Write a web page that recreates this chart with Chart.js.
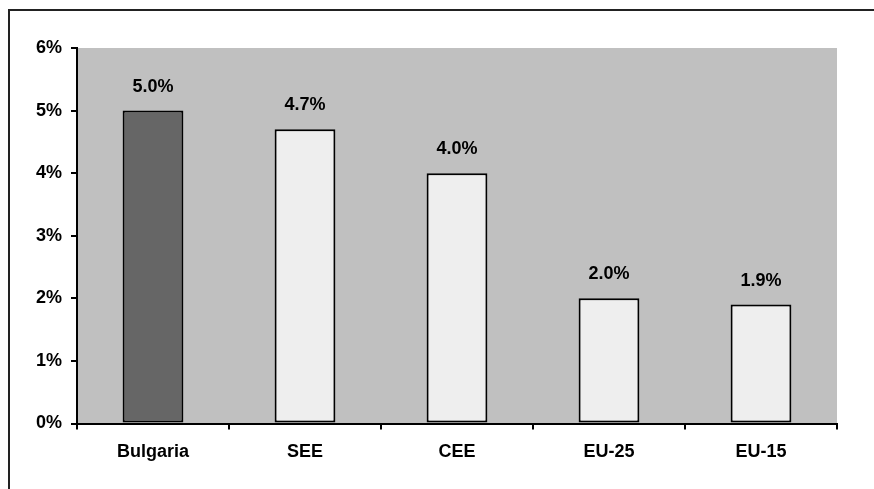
<!DOCTYPE html>
<html>
<head>
<meta charset="utf-8">
<script src="https://cdn.jsdelivr.net/npm/chart.js@4/dist/chart.umd.min.js"></script>
<style>
  html, body { margin: 0; padding: 0; background: #ffffff; }
  #wrap { width: 874px; height: 489px; position: relative; }
</style>
</head>
<body>
<div id="wrap"><canvas id="c" width="874" height="489"></canvas></div>
<script>
// Growth rates by region
const categories = ['Bulgaria', 'SEE', 'CEE', 'EU-25', 'EU-15'];
const growth = [5.0, 4.7, 4.0, 2.0, 1.9];
const barColors = ['#666666', '#eeeeee', '#eeeeee', '#eeeeee', '#eeeeee'];
const yTicks = [0, 1, 2, 3, 4, 5, 6];

const FONT = 'Liberation Sans, Arial, Helvetica, sans-serif';
const FONT_SIZE = 18;

// Gray plot background plus the outer frame lines
const backdrop = {
  id: 'backdrop',
  beforeDraw(chart) {
    const { ctx, chartArea: a } = chart;
    ctx.save();
    ctx.fillStyle = '#ffffff';
    ctx.fillRect(0, 0, chart.width, chart.height);
    ctx.fillStyle = '#c0c0c0';
    ctx.fillRect(a.left, a.top, a.right - a.left, a.bottom - a.top);
    ctx.strokeStyle = '#222222';
    ctx.lineWidth = 2;
    ctx.beginPath();
    ctx.moveTo(9, chart.height + 2);
    ctx.lineTo(9, 10);
    ctx.lineTo(chart.width + 2, 10);
    ctx.stroke();
    ctx.restore();
  }
};

// Value labels above each bar
const valueLabels = {
  id: 'valueLabels',
  afterDatasetsDraw(chart) {
    const { ctx } = chart;
    const meta = chart.getDatasetMeta(0);
    ctx.save();
    ctx.fillStyle = '#000000';
    ctx.font = 'bold ' + FONT_SIZE + 'px ' + FONT;
    ctx.textAlign = 'center';
    ctx.textBaseline = 'middle';
    meta.data.forEach((bar, i) => {
      ctx.fillText(growth[i].toFixed(1) + '%', bar.x, bar.y - 24);
    });
    ctx.restore();
  }
};

new Chart(document.getElementById('c'), {
  type: 'bar',
  data: {
    labels: categories,
    datasets: [{
      data: growth,
      backgroundColor: barColors,
      borderColor: '#000000',
      borderWidth: 2,
      borderSkipped: false,
      categoryPercentage: 1.0,
      barPercentage: 0.4
    }]
  },
  options: {
    responsive: false,
    animation: false,
    events: [],
    layout: { padding: { left: 0, top: 48, right: 37, bottom: 0 } },
    plugins: { legend: { display: false }, tooltip: { enabled: false } },
    scales: {
      x: {
        afterFit(scale) { scale.height = 65.5; },
        grid: {
          offset: true,
          drawOnChartArea: false,
          drawTicks: true,
          tickLength: 6,
          tickColor: '#000000',
          lineWidth: 2
        },
        border: { display: true, color: '#000000', width: 2 },
        ticks: {
          color: '#000000',
          font: { family: FONT, size: FONT_SIZE, weight: 'bold' },
          padding: 12
        }
      },
      y: {
        min: 0,
        max: 6,
        afterFit(scale) { scale.width = 77; },
        afterBuildTicks(scale) { scale.ticks = yTicks.map(v => ({ value: v })); },
        grid: {
          drawOnChartArea: false,
          drawTicks: true,
          tickLength: 6,
          tickColor: '#000000',
          lineWidth: 2
        },
        border: { display: true, color: '#000000', width: 2 },
        ticks: {
          color: '#000000',
          font: { family: FONT, size: FONT_SIZE, weight: 'bold' },
          padding: 9,
          callback: v => v + '%'
        }
      }
    }
  },
  plugins: [backdrop, valueLabels]
});
</script>
</body>
</html>
